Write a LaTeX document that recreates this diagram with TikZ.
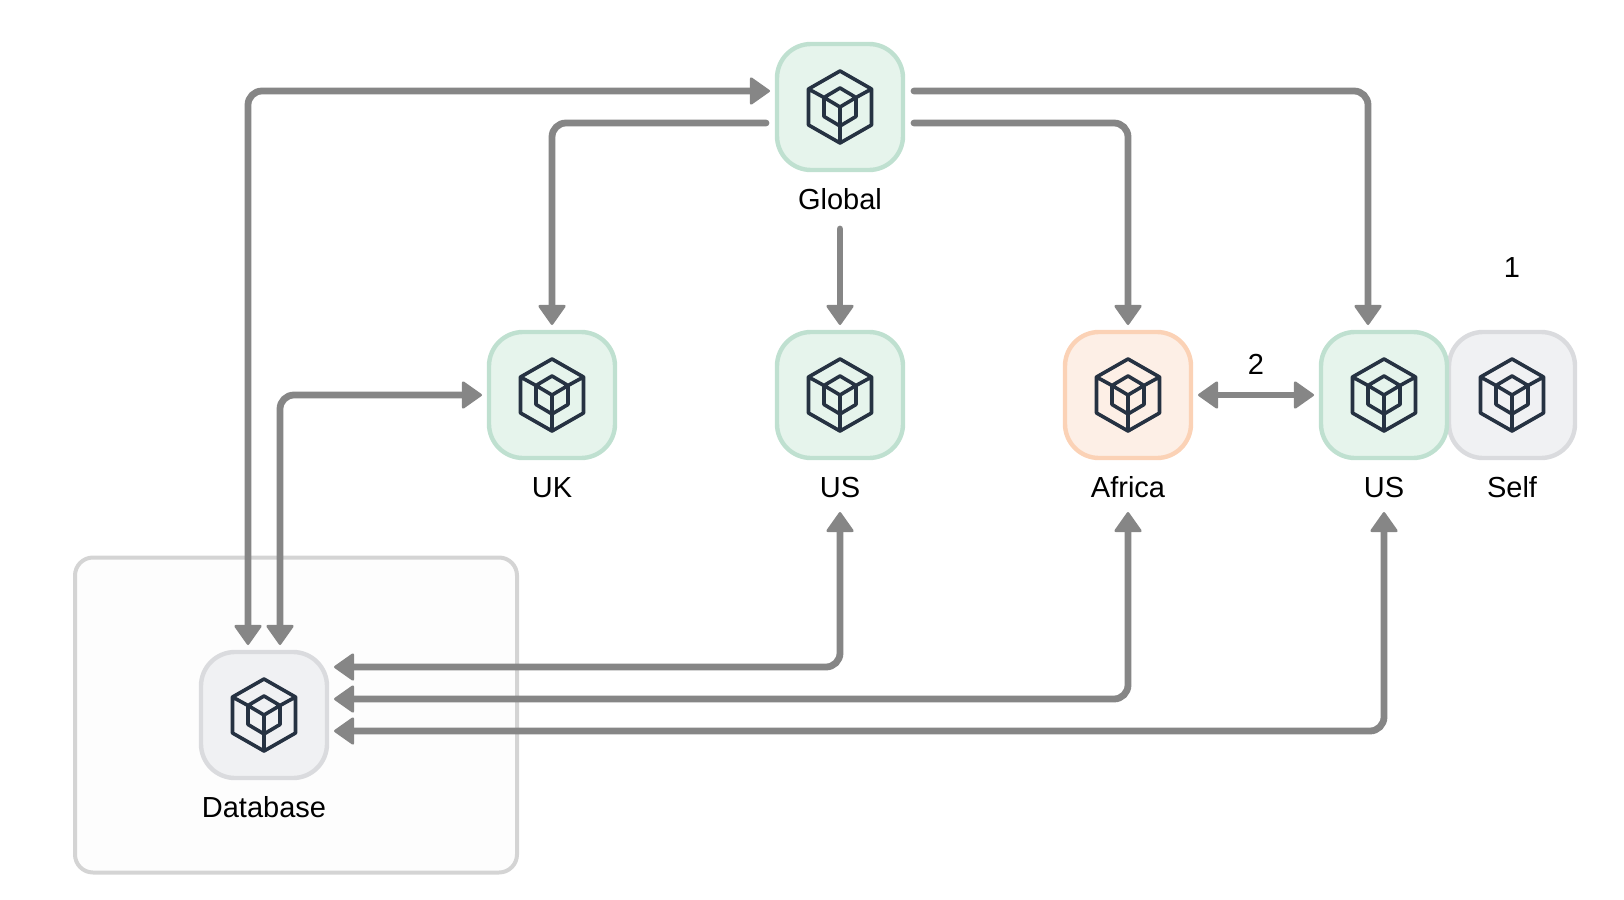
\documentclass[tikz,border=0pt]{standalone}
\usepackage{fontspec}
\setmainfont{Liberation Sans}
\usepackage{xcolor}
\usetikzlibrary{positioning, arrows.meta}
\definecolor{flowgray}{HTML}{868686}
\definecolor{cubeink}{HTML}{263242}
\definecolor{mintfill}{HTML}{E6F4EC}
\definecolor{mintedge}{HTML}{BFE0D0}
\definecolor{peachfill}{HTML}{FDEFE6}
\definecolor{peachedge}{HTML}{FBD2B6}
\definecolor{greyfill}{HTML}{F0F1F3}
\definecolor{greyedge}{HTML}{DADBDE}
\definecolor{regionfill}{HTML}{FDFDFD}
\definecolor{regionedge}{HTML}{D4D4D4}
\tikzset{
    >={Triangle[length=21pt, width=29pt, line width=2.5pt, round]}, % the heavy arrow heads
    flow/.style={draw=flowgray, line width=6.8pt, line cap=round, rounded corners=14pt},
    box/.style={draw, line width=4.4pt, minimum size=126pt, inner sep=0pt, outer sep=7pt, rounded corners=34pt},
    mint/.style={box, draw=mintedge, fill=mintfill},
    peach/.style={box, draw=peachedge, fill=peachfill},
    grey/.style={box, draw=greyedge, fill=greyfill},
    caption/.style={font=\fontsize{29}{31}\selectfont, text height=22pt, text depth=0pt, inner ysep=15pt, inner xsep=0pt, outer sep=0pt},
    tag/.style={font=\fontsize{29}{31}\selectfont, inner sep=0pt},
    cube/.pic={
        \draw[cubeink, line width=3.6pt, line join=round, line cap=round]
            (0,-36) -- (31.5,-18) -- (31.5,18) -- (0,36) -- (-31.5,18) -- (-31.5,-18) -- cycle
            (0,-19) -- (16,-9.5) -- (16,9.5) -- (0,19) -- (-16,9.5) -- (-16,-9.5) -- cycle
            (-31.5,-18) -- (-16,-9.5) -- (0,0) -- (16,-9.5) -- (31.5,-18)
            (0,0) -- (0,36);
    },
}

\begin{document}
\begin{tikzpicture}[x=1pt, y=-1pt]
    \useasboundingbox (0,0) rectangle (1624,899);
    \node[draw=regionedge, fill=regionfill, line width=4pt, rounded corners=18pt, minimum width=442pt, minimum height=315pt, inner sep=0pt] (region) at (296,715) {};

    \node[mint] (global) at (840,107) {};
    \node[mint] (uk) at (552,395) {};
    \node[mint] (usa) at (840,395) {};
    \node[peach] (africa) at (1128,395) {};
    \node[grey] (self) at (1512,395) {};
    \node[mint] (usb) at (1384,395) {};
    \node[grey] (database) at (264,715) {};

    \foreach \where in {global, uk, usa, africa, usb, self, database}
        \pic at (\where) {cube};

    \node[caption, below=-5pt of global] (globaltext) {Global};
    \node[caption, below=-5pt of uk] (uktext) {UK};
    \node[caption, below=-5pt of usa] (usatext) {US};
    \node[caption, below=-5pt of africa] (africatext) {Africa};
    \node[caption, below=-5pt of usb] (usbtext) {US};
    \node[caption, below=-5pt of self] (selftext) {Self};
    \node[caption, below=-5pt of database] (databasetext) {Database};
    \node[tag] (one) at (1512,268) {1};
    \node[tag] (two) at (1256,364) {2};

    % from the global box
    \draw[flow, <->] ([yshift=16pt]global.west) -| ([xshift=-16pt]database.north);
    \draw[flow, ->, shorten <=4pt] ([yshift=-16pt]global.west) -| (uk.north);
    \draw[flow, ->, shorten <=5pt] (globaltext.south) -- (usa.north);
    \draw[flow, ->, shorten <=4pt] ([yshift=-16pt]global.east) -| (africa.north);
    \draw[flow, ->, shorten <=4pt] ([yshift=16pt]global.east) -| ([xshift=-16pt]usb.north);

    % to the database
    \draw[flow, <->] ([xshift=16pt]database.north) |- (uk.west);
    \draw[flow, <->] (usatext.south) |- ([yshift=48pt]database.east);
    \draw[flow, <->] (africatext.south) |- ([yshift=16pt]database.east);
    \draw[flow, <->] (usbtext.south) |- ([yshift=-16pt]database.east);

    \draw[flow, <->] (africa.east) -- (usb.west);
\end{tikzpicture}
\end{document}
